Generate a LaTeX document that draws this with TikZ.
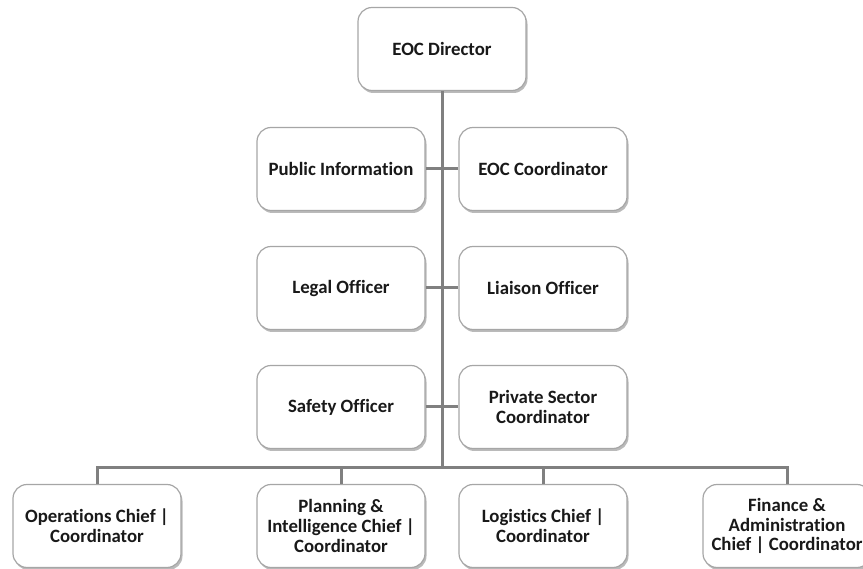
\documentclass[tikz,border=0pt]{standalone}
\usepackage{fontspec}
\setmainfont{Carlito}[Ligatures=NoCommon]
\usetikzlibrary{shadows}
\begin{document}
\begin{tikzpicture}[x=1pt,y=-1pt,
  orgbox/.style={draw=black!35, line width=1.2pt, fill=white, rounded corners=14pt,
    minimum width=168pt, minimum height=83pt, inner sep=2pt, align=center,
    font=\fontsize{18.8}{19.8}\selectfont\bfseries, text=black!90,
    drop shadow={shadow xshift=1.5pt, shadow yshift=-2.5pt, fill=black!45, opacity=0.6}},
  link/.style={draw=black!50, line width=3pt}]
\useasboundingbox (0,0) rectangle (863,569);
\clip (0,0) rectangle (863,569);
\node[orgbox] (dir) at (442,49) {EOC Director};
\node[orgbox] (pub) at (341,169) {Public Information};
\node[orgbox] (coord) at (543,169) {EOC Coordinator};
\node[orgbox] (legal) at (341,288) {Legal Officer};
\node[orgbox] (liaison) at (543,288) {Liaison Officer};
\node[orgbox] (safety) at (341,407) {Safety Officer};
\node[orgbox] (priv) at (543,407) {Private Sector\\Coordinator};
\node[orgbox] (ops) at (97,526) {Operations Chief |\\Coordinator};
\node[orgbox] (plan) at (341,526) {Planning \&\\Intelligence Chief |\\Coordinator};
\node[orgbox] (log) at (543,526) {Logistics Chief |\\Coordinator};
\node[orgbox] (fin) at (787,526) {Finance \&\\Administration\\Chief | Coordinator};
\coordinate (bar) at (442,468);
\path[link] (dir.south) -- (bar);
\path[link] (pub.east) -- (coord.west);
\path[link] (legal.east) -- (liaison.west);
\path[link] (safety.east) -- (priv.west);
\path[link] (ops.north) |- (bar) -| (fin.north);
\path[link] (plan.north) -- (plan.north |- bar);
\path[link] (log.north) -- (log.north |- bar);
\end{tikzpicture}
\end{document}
